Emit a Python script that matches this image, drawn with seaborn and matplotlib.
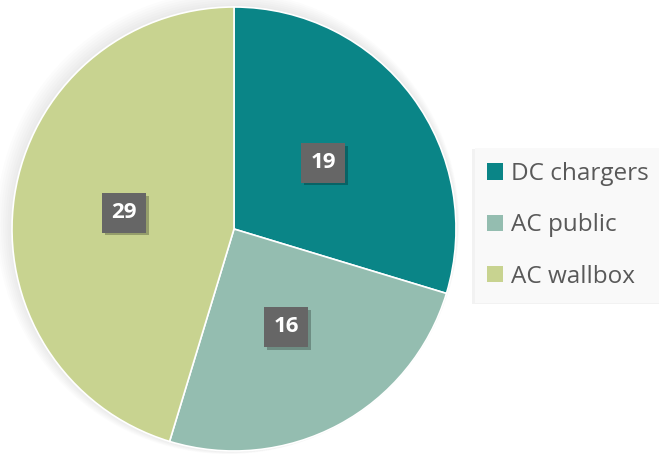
import numpy as np
import matplotlib
matplotlib.use("Agg")
import matplotlib.pyplot as plt
import matplotlib.patheffects as pe
from matplotlib.patches import Patch, Circle, Rectangle
import seaborn as sns
sns.set_style("white")
plt.rcParams["font.family"] = ["Open Sans", "DejaVu Sans"]

# data
labels = ["DC chargers", "AC public", "AC wallbox"]
values = [19, 16, 29]
colors = ["#0A8587", "#94BDB0", "#C8D390"]

W, H = 659, 454
fig = plt.figure(figsize=(W / 100, H / 100), dpi=100)
fig.patch.set_facecolor("white")

# pie axes, center (234, 229) px, radius 222 px
cx, cy, r = 234, 229, 222
ax = fig.add_axes([(cx - r) / W, (H - cy - r) / H, 2 * r / W, 2 * r / H])

# soft glow behind the pie
for k in range(1, 8):
    ax.add_patch(Circle((-0.004 * k, 0.004 * k), 1 + 0.006 * k, color="#808080",
                        alpha=0.022, zorder=0, clip_on=False, lw=0))

wedges, _ = ax.pie(values, colors=colors, startangle=90, counterclock=False,
                   radius=1, wedgeprops=dict(edgecolor="white", linewidth=1.2),
                   center=(0, 0), frame=False)
for w in wedges:
    w.set_zorder(2)
ax.set_xlim(-1, 1)
ax.set_ylim(-1, 1)
ax.set_aspect("equal")
ax.axis("off")

# data labels
total = sum(values)
start = 90
for v in values:
    ang = np.deg2rad(start - v / total * 360 / 2)
    start -= v / total * 360
    t = ax.text(0.5 * np.cos(ang), 0.5 * np.sin(ang), str(v), ha="center", va="center",
                color="white", fontsize=16, fontweight="bold", zorder=5,
                bbox=dict(boxstyle="square,pad=0.42", fc="#666666", ec="none"))
    t.get_bbox_patch().set_path_effects(
        [pe.withSimplePatchShadow(offset=(2, -2), shadow_rgbFace="black", alpha=0.25)])

# legend background panel (runs to the right edge)
lx0, ly0, ly1 = 475, 148, 303
panel = Rectangle((lx0 / W, 1 - ly1 / H), 1 - lx0 / W + 0.01, (ly1 - ly0) / H,
                  transform=fig.transFigure, facecolor="#F9F9F9", edgecolor="none",
                  zorder=0)
panel.set_path_effects(
    [pe.withSimplePatchShadow(offset=(-2, -1), shadow_rgbFace="#C0C0C0", alpha=0.2)])
fig.patches.append(panel)

handles = [Patch(facecolor=c, edgecolor="none") for c in colors]
leg = fig.legend(handles, labels, loc="upper left",
                 bbox_to_anchor=(lx0 / W, 1 - (ly0 + 2) / H),
                 frameon=False, fontsize=17.5, handlelength=0.66, handleheight=0.66,
                 handletextpad=0.33, labelspacing=1.12, borderpad=0.5, borderaxespad=0,
                 labelcolor="#595959")

fig.savefig("out.png", dpi=100, facecolor="white")
